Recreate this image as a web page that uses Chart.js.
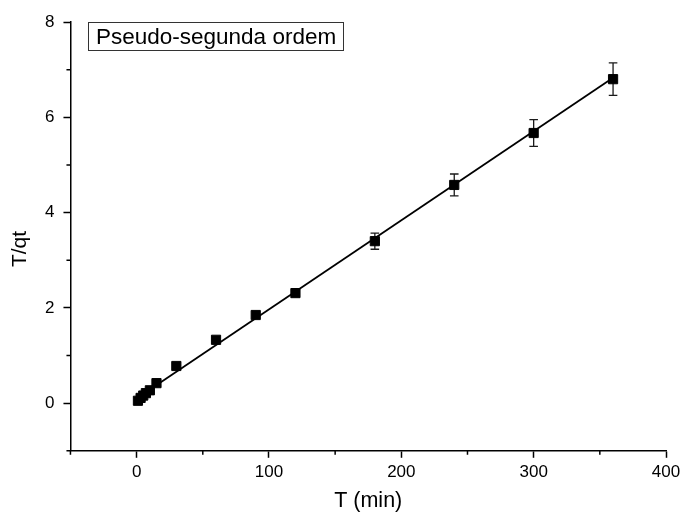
<!DOCTYPE html>
<html>
<head>
<meta charset="utf-8">
<script src="https://cdn.jsdelivr.net/npm/chart.js@4.4.1/dist/chart.umd.min.js"></script>
<style>
  body { margin: 0; background: #fff; }
  #wrap { width: 680px; height: 514px; position: relative; }
</style>
</head>
<body>
<div id="wrap"><canvas id="chart"></canvas></div>
<script>
// time (min) and T/qt
const timeMin = [1, 3, 5, 7, 10, 15, 30, 60, 90, 120, 180, 240, 300, 360];
const tOverQt = [0.05, 0.11, 0.16, 0.21, 0.27, 0.42, 0.78, 1.33, 1.85, 2.31, 3.40, 4.58, 5.67, 6.80];
const errBar  = [0, 0, 0, 0, 0, 0, 0, 0, 0, 0.05, 0.17, 0.23, 0.28, 0.34];

// linear fit line ends
const fitX = [0, 360];
const fitY = [0.10, 6.83];

const xMinorTicks = [-50, 50, 150, 250, 350];
const yMinorTicks = [-1, 1, 3, 5, 7];

const legendText = 'Pseudo-segunda ordem';
const xTitle = 'T (min)';
const yTitle = 'T/qt';

const FONT = "'Liberation Sans', Arial, sans-serif";

const errorBars = {
  id: 'errorBars',
  beforeDatasetsDraw(chart) {
    const { ctx, scales: { x, y } } = chart;
    ctx.save();
    ctx.strokeStyle = '#1a1a1a';
    ctx.lineWidth = 1.3;
    timeMin.forEach((t, i) => {
      const e = errBar[i];
      if (!e) return;
      const px = x.getPixelForValue(t);
      const top = y.getPixelForValue(tOverQt[i] + e);
      const bot = y.getPixelForValue(tOverQt[i] - e);
      ctx.beginPath();
      ctx.moveTo(px, top); ctx.lineTo(px, bot);
      ctx.moveTo(px - 4.3, top); ctx.lineTo(px + 4.3, top);
      ctx.moveTo(px - 4.3, bot); ctx.lineTo(px + 4.3, bot);
      ctx.stroke();
    });
    ctx.restore();
  }
};

const extras = {
  id: 'extras',
  afterDraw(chart) {
    const { ctx, chartArea: a, scales: { x, y } } = chart;
    ctx.save();
    // minor ticks
    ctx.strokeStyle = '#000';
    ctx.lineWidth = 1.5;
    ctx.beginPath();
    xMinorTicks.forEach(v => {
      const px = x.getPixelForValue(v);
      ctx.moveTo(px, a.bottom); ctx.lineTo(px, a.bottom + 4);
    });
    yMinorTicks.forEach(v => {
      const py = y.getPixelForValue(v);
      ctx.moveTo(a.left, py); ctx.lineTo(a.left - 4, py);
    });
    ctx.stroke();

    // legend box
    ctx.lineWidth = 1;
    ctx.strokeStyle = '#333';
    ctx.strokeRect(88.5, 22.5, 255, 28);
    ctx.fillStyle = '#000';
    ctx.font = '22.5px ' + FONT;
    ctx.textBaseline = 'middle';
    ctx.textAlign = 'left';
    ctx.fillText(legendText, 96, 37.5);

    // y axis title
    ctx.translate(20, 249);
    ctx.rotate(-Math.PI / 2);
    ctx.font = '21px ' + FONT;
    ctx.textAlign = 'center';
    ctx.fillText(yTitle, 0, 0);
    ctx.restore();
  }
};

new Chart(document.getElementById('chart').getContext('2d'), {
  type: 'scatter',
  data: {
    datasets: [{
      label: 'fit',
      data: fitX.map((v, i) => ({ x: v, y: fitY[i] })),
      showLine: true,
      borderColor: '#000',
      borderWidth: 1.8,
      pointRadius: 0,
      fill: false,
      order: 2
    }, {
      label: legendText,
      data: timeMin.map((v, i) => ({ x: v, y: tOverQt[i] })),
      pointStyle: 'rect',
      pointRadius: 6.5,
      backgroundColor: '#000',
      borderColor: '#000',
      borderWidth: 1,
      order: 1
    }]
  },
  options: {
    responsive: true,
    maintainAspectRatio: false,
    animation: false,
    layout: { padding: { top: 22, right: 14, left: 36, bottom: 0 } },
    plugins: { legend: { display: false }, tooltip: { enabled: false } },
    scales: {
      x: {
        type: 'linear',
        min: -50,
        max: 400,
        afterFit: s => { s.paddingRight = 0; },
        border: { color: '#000', width: 1.5 },
        grid: {
          drawOnChartArea: false,
          tickLength: 7,
          tickWidth: 1.5,
          tickColor: c => (c.tick && c.tick.value % 100 === 0) ? '#000' : 'rgba(0,0,0,0)'
        },
        ticks: {
          stepSize: 50,
          autoSkip: false,
          maxRotation: 0,
          padding: 4,
          color: '#000',
          font: { family: FONT, size: 17 },
          callback: v => (v % 100 === 0) ? v : ''
        },
        title: {
          display: true,
          text: xTitle,
          color: '#000',
          font: { family: FONT, size: 21.5 },
          padding: { top: 2, bottom: 0 }
        }
      },
      y: {
        type: 'linear',
        min: -1,
        max: 8,
        border: { color: '#000', width: 1.5 },
        grid: {
          drawOnChartArea: false,
          tickLength: 7,
          tickWidth: 1.5,
          tickColor: c => (c.tick && c.tick.value % 2 === 0 && c.tick.value >= 0) ? '#000' : 'rgba(0,0,0,0)'
        },
        ticks: {
          stepSize: 1,
          autoSkip: false,
          padding: 9,
          color: '#000',
          font: { family: FONT, size: 17 },
          callback: v => (v % 2 === 0 && v >= 0) ? v : ''
        }
      }
    }
  },
  plugins: [errorBars, extras]
});
</script>
</body>
</html>
